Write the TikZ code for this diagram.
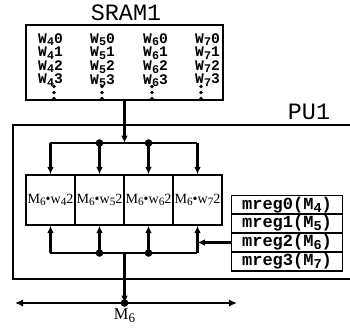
\documentclass[tikz,border=0pt]{standalone}
\usepackage{fontspec}
\setmainfont{Liberation Serif}
\setmonofont{Liberation Mono}
\usetikzlibrary{positioning,arrows.meta}

% lowered index, as printed
\newcommand\lowidx[1]{\raisebox{-0.35ex}{\scalebox{0.8}{#1}}}

\begin{document}
\begin{tikzpicture}[x=0.03cm, y=-0.03cm,
  box/.style={draw, line width=1.2pt, rectangle, inner sep=0},
  cell/.style={box, minimum width=1.47cm, minimum height=1.5cm,
               font=\fontsize{12}{12}\selectfont},
  reg/.style={box, minimum width=3.33cm, minimum height=0.565cm,
              font=\fontsize{14.5}{14.5}\ttfamily\bfseries},
  bus/.style={line width=2pt},
  arr/.style={bus, -{Latex[length=2.2mm,width=2mm]}},
  dbl/.style={bus, {Latex[length=2.4mm,width=2.2mm]}-{Latex[length=2.4mm,width=2.2mm]}},
  jn/.style={circle, fill=black, minimum size=6.5pt, inner sep=0},
  wcol/.style={align=left, inner sep=0, anchor=north west,
               font=\fontsize{12.5}{9.5}\ttfamily\bfseries},
  title/.style={font=\fontsize{20}{20}\ttfamily}
]
\useasboundingbox (0,0) rectangle (350,330);

%% ── SRAM1 ───────────────────────────────────────────────────────────────
\node[title] (sramlbl) at (126,13) {SRAM1};
\node[box, minimum width=5.91cm, minimum height=2.25cm] (sram) at (124.5,62.5) {};
\foreach \c/\x/\d in {4/38/54, 5/90/102, 6/143/152, 7/195/201}{
  \node[wcol] (w\c) at (\x,33) {W\lowidx{\c}0\\W\lowidx{\c}1\\W\lowidx{\c}2\\W\lowidx{\c}3};
  \foreach \y in {86.5,92.5,98.5}
    \fill (\d,\y) circle[radius=1.8];
}

%% ── PU1 ─────────────────────────────────────────────────────────────────
\node[title] (pulbl) at (309,112) {PU1};
\draw[line width=1.2pt] (350,125) -| (13,279) -- (350,279);

% multiplier cells
\foreach \i/\x/\c in {1/50.5/4, 2/99.5/5, 3/148.5/6, 4/197.5/7}
  \node[cell] (cell\i) at (\x,200) {M\lowidx{6}\textbullet w\lowidx{\c}2};

% mreg table
\foreach \i/\m/\y in {0/4/205, 1/5/223.5, 2/6/242.5, 3/7/261.5}
  \node[reg] (mreg\i) at (287,\y) {mreg\i(M\lowidx{\m})};

% bus points
\coordinate (tb)   at (124.5,143);
\coordinate (bb)   at (124.5,253);
\coordinate (out)  at (124.5,303);
\coordinate (busl) at (15,303);
\coordinate (busr) at (237,303);

%% ── edges ───────────────────────────────────────────────────────────────
\draw[arr] (sram.south) -- (tb);
\draw[bus] (cell1.north |- tb) -- (cell4.north |- tb);
\foreach \i in {1,...,4}
  \draw[arr] (cell\i.north |- tb) -- (cell\i.north);
\node[jn] (jt2) at (cell2.north |- tb) {};
\node[jn] (jt3) at (cell3.north |- tb) {};

\draw[bus] (cell1.south |- bb) -- (cell4.south |- bb);
\foreach \i in {1,...,4}
  \draw[arr] (cell\i.south |- bb) -- (cell\i.south);
\node[jn] (jb2) at (cell2.south |- bb) {};
\node[jn] (jb3) at (cell3.south |- bb) {};
\draw[arr] (mreg2.west) -- (cell4.south |- mreg2.west);

% output to M6 bus
\draw[arr] (bb) -- (out);
\draw[dbl] (busl) -- (busr);
\node[jn] (jo) at (out) {};
\node[font=\fontsize{14}{14}\selectfont] (m6) at (124.5,316) {M\lowidx{6}};

\end{tikzpicture}
\end{document}
